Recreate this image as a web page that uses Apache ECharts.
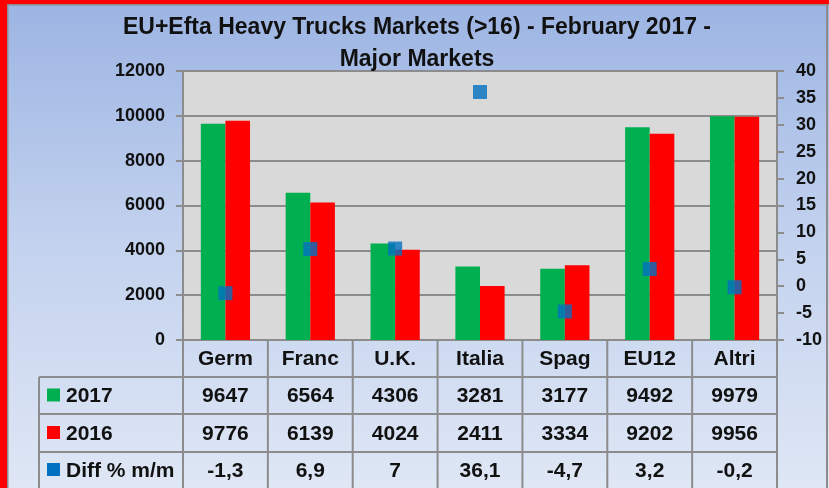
<!DOCTYPE html>
<html><head><meta charset="utf-8">
<script src="https://cdn.jsdelivr.net/npm/echarts@6/dist/echarts.min.js"></script>
<style>html,body{margin:0;padding:0;}#c{width:829px;height:488px;background:linear-gradient(180deg,#9cb4e3 0%,#c3d2ee 50%,#dfe7f5 100%);}</style>
</head><body><div id="c"></div>
<script>
const categories = ['Germ','Franc','U.K.','Italia','Spag','EU12','Altri'];
const v2017 = [9647,6564,4306,3281,3177,9492,9979];
const v2016 = [9776,6139,4024,2411,3334,9202,9956];
const diff = [-1.3,6.9,7,36.1,-4.7,3.2,-0.2];
const seriesNames = ['2017','2016','Diff % m/m'];
const titleLines = ['EU+Efta Heavy Trucks Markets (>16) - February 2017 -','Major Markets'];

const GREEN='#00b050', RED='#ff0000', BLUE='#0070c0', LINE='#8c8c8c', TXT='#111';
const FONT='"Liberation Sans", Arial, sans-serif';

const chart = echarts.init(document.getElementById('c'), null, {renderer:'canvas'});
const option = {
  animation:false,
  textStyle:{fontFamily:FONT},
  grid:{left:183,right:52,top:71,bottom:148,show:true,backgroundColor:'#d9d9d9',borderWidth:0},
  xAxis:{type:'category',data:categories,axisLine:{show:false},axisTick:{show:false},axisLabel:{show:false},splitLine:{show:false}},
  yAxis:[
    {type:'value',min:0,max:12000,interval:2000,
     axisLine:{show:true,lineStyle:{color:LINE,width:2}},
     axisTick:{show:true,length:7,lineStyle:{color:LINE,width:2}},
     axisLabel:{color:TXT,fontWeight:'bold',fontSize:18,margin:18,fontFamily:FONT,formatter:v=>String(v)},
     splitLine:{show:true,lineStyle:{color:LINE,width:2}}},
    {type:'value',min:-10,max:40,interval:5,position:'right',
     axisLine:{show:true,lineStyle:{color:LINE,width:2}},
     axisTick:{show:true,length:7,lineStyle:{color:LINE,width:2}},
     axisLabel:{color:TXT,fontWeight:'bold',fontSize:18,margin:19,fontFamily:FONT,formatter:v=>String(v)},
     splitLine:{show:false}}
  ],
  series:[
    {name:seriesNames[0],type:'bar',data:v2017,itemStyle:{color:GREEN},barGap:'0%',barCategoryGap:'42%'},
    {name:seriesNames[1],type:'bar',data:v2016,itemStyle:{color:RED},barGap:'0%',barCategoryGap:'42%'},
    {name:seriesNames[2],type:'scatter',yAxisIndex:1,data:diff,symbol:'rect',symbolSize:14,itemStyle:{color:BLUE},z:5}
  ]
};
chart.setOption(option);

// Build title, borders and data table
const g = [];
g.push({type:'rect',shape:{x:0,y:0,width:829,height:4},style:{fill:RED},silent:true});
g.push({type:'rect',shape:{x:0,y:0,width:7,height:488},style:{fill:RED},silent:true});
g.push({type:'rect',shape:{x:7,y:4,width:822,height:1.5},style:{fill:LINE},silent:true});
g.push({type:'rect',shape:{x:7,y:4,width:1.5,height:484},style:{fill:LINE},silent:true});
g.push({type:'rect',shape:{x:826,y:4,width:2,height:484},style:{fill:LINE},silent:true});
g.push({type:'text',x:417,y:28,style:{text:titleLines[0],font:'bold 23px '+FONT,fill:TXT,textAlign:'center',textVerticalAlign:'middle'}});
g.push({type:'text',x:417,y:60,style:{text:titleLines[1],font:'bold 23px '+FONT,fill:TXT,textAlign:'center',textVerticalAlign:'middle'}});

const x0 = 183, x1 = 777, tLeft = 39;
const rowY = [340, 377, 414, 452, 488];
const cw = (x1-x0)/categories.length;
for (let k=0;k<=categories.length;k++){
  const x = x0 + k*cw;
  g.push({type:'line',shape:{x1:x,y1:340,x2:x,y2:488},style:{stroke:LINE,lineWidth:2},silent:true});
}
g.push({type:'line',shape:{x1:tLeft,y1:377,x2:tLeft,y2:488},style:{stroke:LINE,lineWidth:2},silent:true});
for (let r=1;r<=3;r++){
  g.push({type:'line',shape:{x1:tLeft,y1:rowY[r],x2:x1,y2:rowY[r]},style:{stroke:LINE,lineWidth:2},silent:true});
}
const rows = [v2017.map(String), v2016.map(String), diff.map(v=>String(v).replace('.',','))];
const keyColors = [GREEN, RED, BLUE];
categories.forEach((c,i)=>{
  const cx = chart.convertToPixel({xAxisIndex:0}, c);
  g.push({type:'text',x:cx,y:(rowY[0]+rowY[1])/2+1,style:{text:c,font:'bold 21px '+FONT,fill:TXT,textAlign:'center',textVerticalAlign:'middle'}});
  for (let r=0;r<3;r++){
    g.push({type:'text',x:cx,y:(rowY[r+1]+rowY[r+2])/2+1,style:{text:rows[r][i],font:'bold 21px '+FONT,fill:TXT,textAlign:'center',textVerticalAlign:'middle'}});
  }
});
for (let r=0;r<3;r++){
  const cy = (rowY[r+1]+rowY[r+2])/2;
  g.push({type:'rect',shape:{x:47,y:cy-7,width:13,height:13},style:{fill:keyColors[r]},silent:true});
  g.push({type:'text',x:66,y:cy+1,style:{text:seriesNames[r],font:'bold 21px '+FONT,fill:TXT,textAlign:'left',textVerticalAlign:'middle'}});
}
chart.setOption({graphic:{elements:g}});
</script></body></html>
